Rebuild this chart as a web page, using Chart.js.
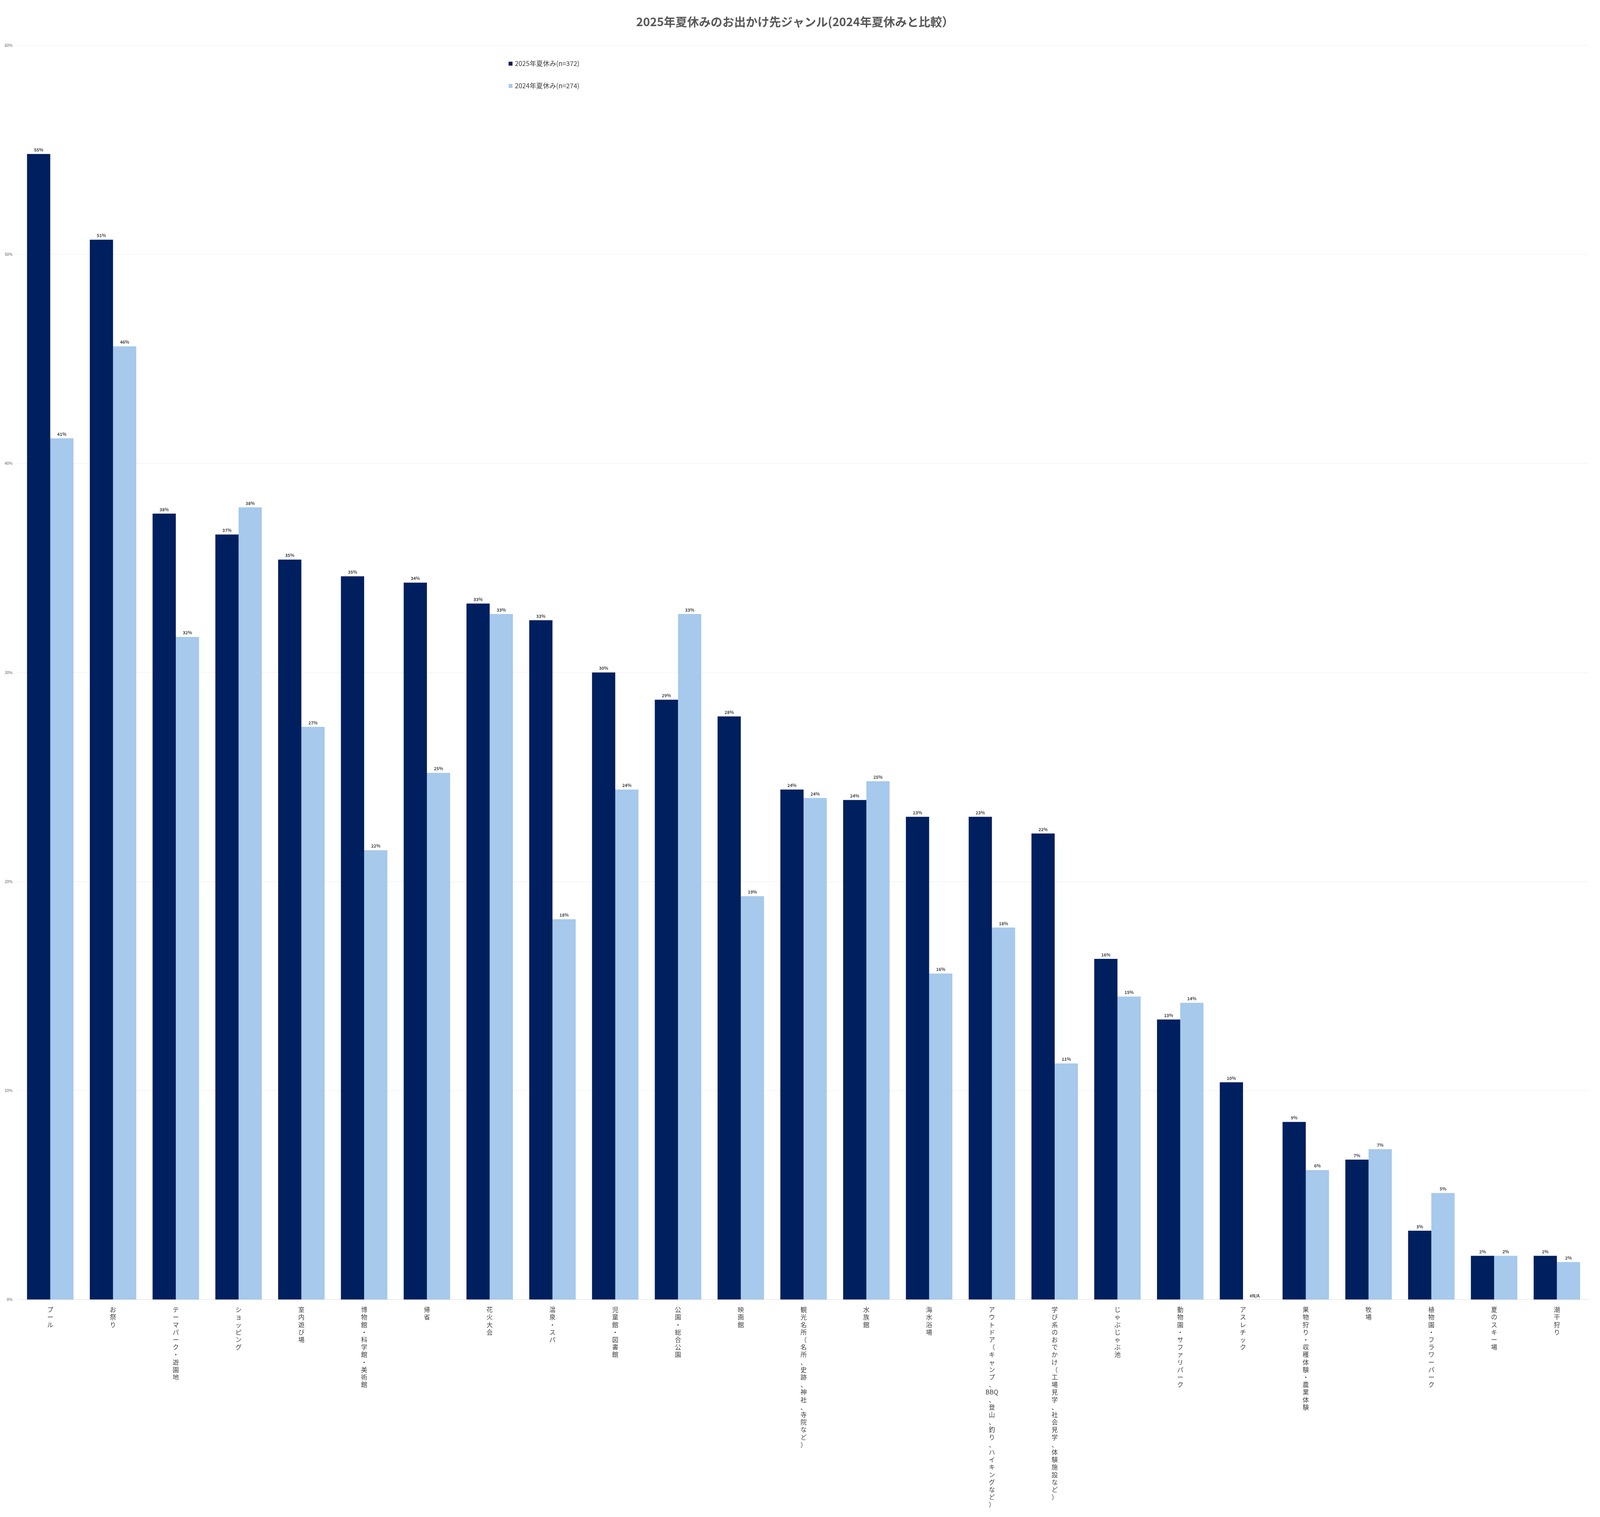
<!DOCTYPE html>
<html>
<head>
<meta charset="utf-8">
<script src="https://cdn.jsdelivr.net/npm/chart.js@4"></script>
<style>
  html, body { margin: 0; background: #fff; overflow: hidden; }
  #wrap { width: 100vw; height: 100vh; }
</style>
</head>
<body>
<div id="wrap"><canvas id="chart"></canvas></div>
<script>
const FONT = '"Noto Sans CJK JP", "Noto Sans", sans-serif';

const categories = ['プール', 'お祭り', 'テーマパーク・遊園地', 'ショッピング', '室内遊び場', '博物館・科学館・美術館', '帰省', '花火大会', '温泉・スパ', '児童館・図書館', '公園・総合公園', '映画館', '観光名所（名所、史跡、神社、寺院など）', '水族館', '海水浴場', 'アウトドア（キャンプ、BBQ、登山、釣り、ハイキングなど）', '学び系のおでかけ（工場見学、社会見学、体験施設など）', 'じゃぶじゃぶ池', '動物園・サファリパーク', 'アスレチック', '果物狩り・収穫体験・農業体験', '牧場', '植物園・フラワーパーク', '夏のスキー場', '潮干狩り'];

const values2025 = [54.8, 50.7, 37.6, 36.6, 35.4, 34.6, 34.3, 33.3, 32.5, 30.0, 28.7, 27.9, 24.4, 23.9, 23.1, 23.1, 22.3, 16.3, 13.4, 10.4, 8.5, 6.7, 3.3, 2.1, 2.1];
const values2024 = [41.2, 45.6, 31.7, 37.9, 27.4, 21.5, 25.2, 32.8, 18.2, 24.4, 32.8, 19.3, 24.0, 24.8, 15.6, 17.8, 11.3, 14.5, 14.2, null, 6.2, 7.2, 5.1, 2.1, 1.8];

const seriesNames = ['2025年夏休み(n=372)', '2024年夏休み(n=274)'];
const seriesColors = ['#001f5f', '#a6c9ec'];
const yTicks = [0, 10, 20, 30, 40, 50, 60];

// split a label into vertical lines, keeping runs of latin letters together
function verticalLabel(s) {
  return s.match(/[A-Za-z]+|./g);
}

const barLabels = {
  id: 'barLabels',
  afterDatasetsDraw(chart) {
    const ctx = chart.ctx;
    ctx.save();
    ctx.font = 'bold 11px ' + FONT;
    ctx.fillStyle = '#404040';
    ctx.textAlign = 'center';
    ctx.textBaseline = 'bottom';
    chart.data.datasets.forEach((ds, i) => {
      chart.getDatasetMeta(i).data.forEach((bar, j) => {
        const v = ds.data[j];
        if (v === null) {
          ctx.fillText('#N/A', bar.x, chart.scales.y.getPixelForValue(0) - 4);
          return;
        }
        ctx.fillText(Math.round(v) + '%', bar.x, bar.y - 5);
      });
    });
    ctx.restore();
  }
};

const sideLegend = {
  id: 'sideLegend',
  afterDraw(chart) {
    const ctx = chart.ctx;
    ctx.save();
    ctx.font = '17px ' + FONT;
    ctx.textBaseline = 'middle';
    const x = 1302, ys = [163, 220];
    seriesNames.forEach((name, i) => {
      ctx.fillStyle = seriesColors[i];
      ctx.fillRect(x, ys[i] - 5, 10, 10);
      ctx.fillStyle = '#404040';
      ctx.fillText(name, x + 16, ys[i]);
    });
    ctx.restore();
  }
};

new Chart(document.getElementById('chart'), {
  type: 'bar',
  data: {
    labels: categories.map(verticalLabel),
    datasets: [
      { label: seriesNames[0], data: values2025, backgroundColor: seriesColors[0] },
      { label: seriesNames[1], data: values2024, backgroundColor: seriesColors[1] }
    ]
  },
  options: {
    responsive: true,
    maintainAspectRatio: false,
    animation: false,
    layout: { padding: { left: 4, right: 30, bottom: 14 } },
    categoryPercentage: 0.74,
    barPercentage: 1.0,
    plugins: {
      legend: { display: false },
      tooltip: { enabled: false },
      title: {
        display: true,
        text: '2025年夏休みのお出かけ先ジャンル(2024年夏休みと比較）',
        color: '#595959',
        font: { family: FONT, size: 30, weight: 'bold' },
        padding: { top: 38, bottom: 42 }
      }
    },
    scales: {
      x: {
        grid: { display: false },
        border: { color: '#d9d9d9', width: 1 },
        ticks: {
          autoSkip: false,
          maxRotation: 0,
          minRotation: 0,
          color: '#404040',
          padding: 8,
          font: { family: FONT, size: 16, lineHeight: 1.2 }
        }
      },
      y: {
        min: 0,
        max: 60,
        afterBuildTicks(axis) { axis.ticks = yTicks.map(v => ({ value: v })); },
        grid: { color: '#ececec', lineWidth: 1 },
        border: { display: false },
        ticks: {
          color: '#595959',
          padding: 8,
          font: { family: FONT, size: 10 },
          callback: v => v + '%'
        }
      }
    }
  },
  plugins: [barLabels, sideLegend]
});
</script>
</body>
</html>
